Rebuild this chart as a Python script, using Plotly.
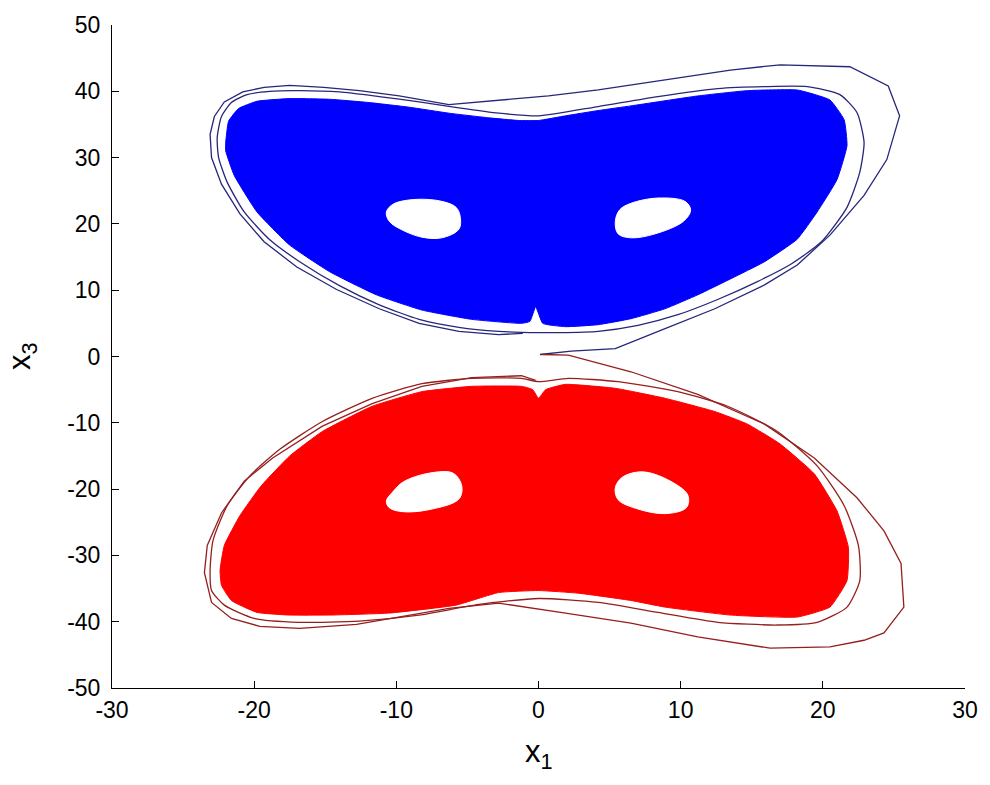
import plotly.graph_objects as go

# ---- axis ticks ----
x_ticks = [-30, -20, -10, 0, 10, 20, 30]
y_ticks = [-50, -40, -30, -20, -10, 0, 10, 20, 30, 40, 50]
x_tick_text = ["-30", "-20", "-10", "0", "10", "20", "30"]
y_tick_text = ["-50", "-40", "-30", "-20", "-10", "0", "10", "20", "30", "40", "50"]

# ---- upper attractor (x3 > 0): dense region outline ----
blue_core_x = [-22.0, -21.8, -21.1, -19.8, -17.5, -14.7, -11.9, -9.1, -6.3, -3.5, -1.4, 0.0,
               1.9, 4.2, 6.5, 11.2, 14.7, 18.2, 20.5, 21.5, 21.7, 21.0, 19.6, 18.2, 15.9,
               13.5, 11.2, 8.9, 6.5, 4.2, 1.9, 0.3, -0.2, -0.6, -1.2, -4.7, -8.2, -11.4,
               -14.7, -17.5, -19.8, -21.4, -22.0]
blue_core_y = [32.3, 35.5, 37.4, 38.5, 38.9, 38.8, 38.3, 37.6, 36.7, 36.0, 35.6, 35.6,
               36.3, 37.1, 37.8, 39.3, 40.1, 40.2, 38.7, 35.7, 31.8, 26.7, 21.8, 17.7, 14.3,
               11.7, 9.3, 7.2, 5.7, 4.8, 4.5, 5.0, 7.5, 5.3, 5.0, 5.6, 7.0, 9.3,
               12.8, 16.8, 21.8, 27.3, 31.0]

# outer loop hugging the dense region
blue_loop_x = [-22.6, -22.3, -21.6, -20.5, -18.9, -16.8, -14.0, -11.2, -8.4, -5.6, -2.8, 0.0,
               4.2, 8.4, 12.6, 15.9, 18.9, 21.2, 22.4, 22.9, 22.6, 21.7, 19.9, 17.8, 15.4,
               12.6, 9.8, 7.0, 4.2, 1.4, 0.0, -2.8, -5.6, -8.4, -11.2, -14.0, -16.8, -18.9,
               -20.7, -21.9, -22.5]
blue_loop_y = [33.0, 36.2, 38.3, 39.5, 40.0, 40.1, 39.9, 39.2, 38.4, 37.5, 36.7, 36.3,
               37.7, 39.2, 40.4, 40.7, 40.7, 39.5, 36.8, 32.3, 27.8, 22.5, 17.3, 14.0, 11.3,
               8.6, 6.3, 4.7, 3.8, 3.6, 3.6, 3.8, 4.4, 5.6, 7.8, 10.7, 14.3, 17.6,
               21.8, 26.3, 30.0]

# transient orbit leaving the origin, then the outermost loop
blue_orbit_x = [0.1, 2.3, 5.4, 7.0, 8.9, 12.4, 15.9, 18.2, 20.5, 22.9, 24.5, 25.4, 24.6,
                21.9, 19.8, 17.0, 13.5, 8.9, 4.2, 0.7, -2.8, -6.3, -9.8, -12.6, -15.1,
                -17.5, -19.3, -20.8, -22.1, -22.8, -23.1, -23.0, -22.3, -21.0, -19.3,
                -17.0, -14.2, -11.2, -8.4, -5.6, -2.8, -1.1]
blue_orbit_y = [0.3, 0.8, 1.2, 2.6, 4.2, 7.2, 10.8, 13.8, 18.3, 24.3, 29.7, 36.3, 40.8,
                43.7, 43.8, 44.0, 43.2, 41.7, 40.2, 39.3, 38.6, 38.0, 39.3, 40.1, 40.6,
                40.9, 40.6, 39.9, 38.4, 36.2, 33.5, 30.0, 26.0, 21.5, 17.3,
                13.5, 10.1, 7.2, 5.0, 3.8, 3.3, 3.5]

# empty regions around the two equilibria
blue_hole_left_x = [-10.7, -10.2, -8.6, -6.8, -5.8, -5.5, -5.6, -6.8, -8.2, -9.6, -10.5]
blue_hole_left_y = [21.8, 23.0, 23.7, 23.4, 22.5, 21.0, 19.2, 17.9, 18.0, 19.1, 20.4]
blue_hole_right_x = [5.4, 5.7, 6.5, 8.4, 10.3, 10.7, 10.2, 8.2, 6.5, 5.6]
blue_hole_right_y = [20.3, 22.1, 23.1, 23.9, 23.4, 22.1, 20.4, 18.5, 17.9, 18.5]

# ---- lower attractor (x3 < 0) ----
red_core_x = [-22.4, -22.1, -21.0, -19.5, -17.5, -15.2, -11.7, -8.2, -4.7, -1.2, -0.4, 0.0,
              0.5, 1.9, 5.4, 8.9, 12.4, 14.7, 17.0, 19.4, 21.0, 21.8, 21.7, 20.5, 18.2,
              13.5, 8.9, 6.5, 2.8, 0.0, -2.8, -5.8, -10.5, -14.7, -17.5, -19.8, -21.6, -22.3]
red_core_y = [-32.3, -28.5, -24.0, -19.5, -15.0, -11.3, -7.5, -5.3, -4.5, -4.5, -5.0, -6.3,
              -5.0, -4.2, -4.8, -6.3, -8.3, -10.2, -13.2, -17.7, -23.3, -28.8, -33.8, -37.8, -39.3,
              -39.0, -37.8, -36.8, -35.7, -35.3, -35.6, -37.5, -38.7, -39.0, -39.0, -38.6, -36.8, -34.5]

red_loop_x = [-23.1, -22.9, -21.9, -20.3, -18.2, -15.2, -11.7, -8.2, -4.7, -1.2, 0.0, 2.1,
              5.6, 9.8, 13.3, 16.8, 19.6, 21.5, 22.5, 22.6, 21.7, 19.6, 16.8, 12.6, 8.4,
              4.2, 0.0, -4.2, -8.4, -12.6, -16.8, -20.0, -22.1, -23.0]
red_loop_y = [-32.3, -27.8, -22.5, -18.0, -14.0, -9.8, -6.3, -4.1, -3.3, -3.3, -3.8, -3.3,
              -3.8, -5.3, -7.5, -11.3, -16.5, -22.5, -28.5, -33.8, -37.8, -40.1, -40.5, -40.1, -38.6,
              -37.1, -36.5, -37.4, -39.0, -39.9, -40.1, -39.5, -37.5, -35.3]

red_orbit_x = [0.2, 2.1, 6.5, 11.2, 15.9, 19.4, 22.4, 24.3, 25.5, 25.7, 24.3, 22.9, 20.5,
               16.3, 11.2, 6.5, 1.9, -2.8, -6.3, -9.8, -12.8, -16.8, -19.6, -21.6, -23.0,
               -23.5, -23.3, -22.3, -20.7, -18.7, -15.2, -11.7, -8.2, -4.7, -1.2, -0.2]
red_orbit_y = [0.3, 0.2, -2.3, -5.7, -10.2, -15.3, -21.3, -26.3, -31.2, -37.8, -41.7, -42.8, -43.8,
               -44.0, -42.3, -40.2, -38.7, -37.2, -38.0, -39.3, -40.4, -41.0, -40.7, -39.5, -37.1,
               -32.6, -28.5, -23.6, -18.8, -15.3, -10.5, -7.1, -4.5, -3.2, -2.9, -3.6]

red_hole_left_x = [-10.7, -10.2, -9.5, -7.7, -6.0, -5.4, -5.6, -7.7, -9.6, -10.5]
red_hole_left_y = [-21.8, -20.3, -18.9, -17.6, -17.6, -19.5, -21.5, -23.1, -23.4, -22.8]
red_hole_right_x = [5.4, 5.9, 7.3, 9.1, 10.5, 10.4, 8.9, 7.0, 5.6]
red_hole_right_y = [-19.8, -18.2, -17.4, -18.6, -20.9, -22.8, -23.7, -23.0, -21.6]

BLUE = "#0000ff"
BLUE_LINE = "#26267a"
RED = "#ff0000"
RED_LINE = "#951f1f"


def closed(v):
    return list(v) + [v[0]]


fig = go.Figure()


def filled(xs, ys, color, smooth):
    fig.add_trace(go.Scatter(x=closed(xs), y=closed(ys), mode="lines", fill="toself",
                             fillcolor=color,
                             line=dict(color=color, width=1, shape="spline", smoothing=smooth),
                             hoverinfo="skip", showlegend=False))


def curve(xs, ys, color, close=False, smooth=0.0):
    x = closed(xs) if close else xs
    y = closed(ys) if close else ys
    line = dict(color=color, width=1.3)
    if smooth:
        line.update(shape="spline", smoothing=smooth)
    fig.add_trace(go.Scatter(x=x, y=y, mode="lines", line=line,
                             hoverinfo="skip", showlegend=False))


for core_x, core_y, loop_x, loop_y, orb_x, orb_y, fill_c, line_c, holes in [
    (blue_core_x, blue_core_y, blue_loop_x, blue_loop_y, blue_orbit_x, blue_orbit_y, BLUE, BLUE_LINE,
     [(blue_hole_left_x, blue_hole_left_y), (blue_hole_right_x, blue_hole_right_y)]),
    (red_core_x, red_core_y, red_loop_x, red_loop_y, red_orbit_x, red_orbit_y, RED, RED_LINE,
     [(red_hole_left_x, red_hole_left_y), (red_hole_right_x, red_hole_right_y)]),
]:
    filled(core_x, core_y, fill_c, 0.4)
    for hx, hy in holes:
        filled(hx, hy, "#ffffff", 1.0)
    curve(loop_x, loop_y, line_c, close=True, smooth=0.6)
    curve(orb_x, orb_y, line_c)

axis_font = dict(family="Liberation Sans, Arial, sans-serif", size=23, color="#000000")

fig.update_xaxes(range=[-30, 30], tickvals=x_ticks, ticktext=x_tick_text, ticks="inside",
                 ticklen=7, tickwidth=1, tickcolor="#000000", showline=True,
                 linecolor="#000000", linewidth=1, showgrid=False, zeroline=False,
                 mirror=False, tickfont=axis_font, ticklabelstandoff=1)
fig.update_yaxes(range=[-50, 50], tickvals=y_ticks, ticktext=y_tick_text, ticks="inside",
                 ticklen=7, tickwidth=1, tickcolor="#000000", showline=True,
                 linecolor="#000000", linewidth=1, showgrid=False, zeroline=False,
                 mirror=False, tickfont=axis_font, ticklabelstandoff=6)

label_font = dict(family="Liberation Sans, Arial, sans-serif", size=31, color="#000000")
fig.add_annotation(text="x<sub>1</sub>", x=0, xref="x", y=-0.1, yref="paper",
                   xanchor="center", yanchor="middle", showarrow=False, font=label_font)
fig.add_annotation(text="x<sub>3</sub>", x=-0.106, xref="paper", y=0, yref="y",
                   xanchor="center", yanchor="middle", textangle=-90, showarrow=False,
                   font=label_font)

fig.update_layout(width=990, height=785, margin=dict(l=112, r=21, t=22, b=97),
                  paper_bgcolor="#ffffff", plot_bgcolor="#ffffff", showlegend=False)

fig.write_html("out.html")
